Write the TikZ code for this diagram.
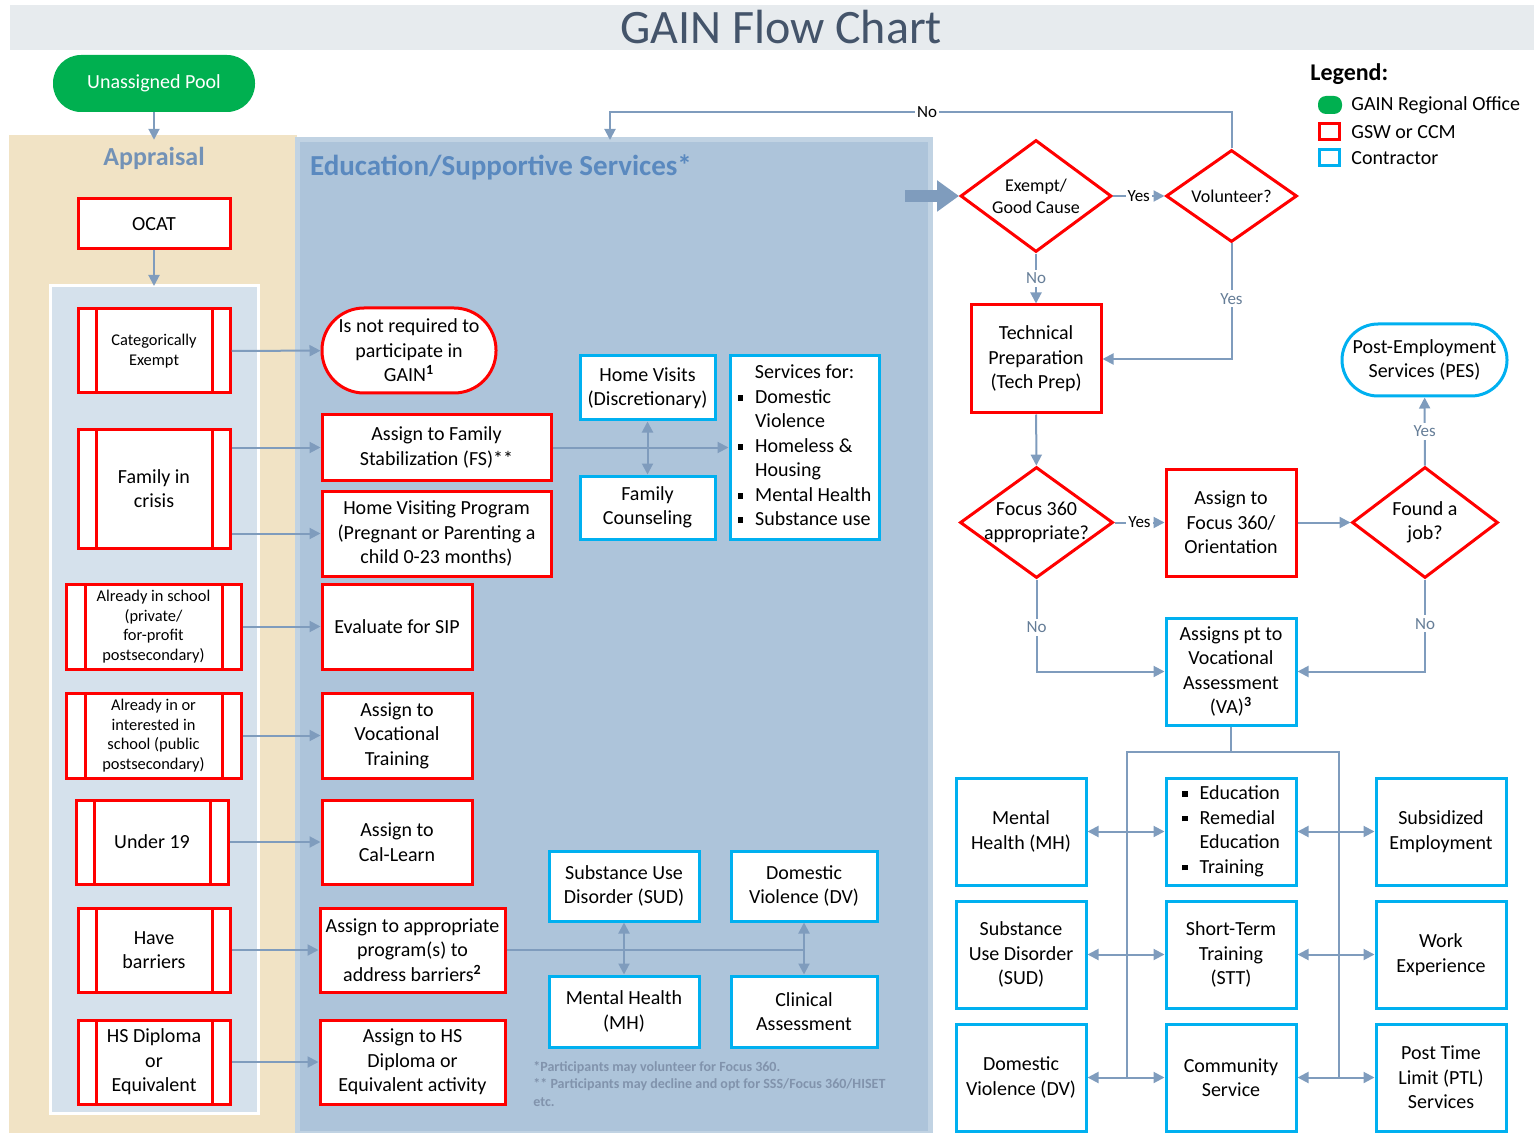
\documentclass[tikz,border=0pt]{standalone}
\usepackage{fontspec}
\setmainfont{Carlito}
\usetikzlibrary{shapes.geometric, arrows.meta, positioning}
\definecolor{gsred}{HTML}{FF0000}
\definecolor{ccblue}{HTML}{00B0F0}
\definecolor{rogreen}{HTML}{00B050}
\definecolor{linegray}{HTML}{7F9CBD}
\definecolor{apprbeige}{HTML}{F1E3C5}
\definecolor{edublue}{HTML}{ADC4DA}
\definecolor{listblue}{HTML}{D5E1EC}
\definecolor{barfill}{HTML}{E7EBEE}
\definecolor{titleslate}{HTML}{44546A}
\definecolor{headblue}{HTML}{5A89BF}
\definecolor{apprhead}{HTML}{7392B6}
\definecolor{footgray}{HTML}{8193AC}
\newcommand*{\mainfs}{\fontsize{10}{12.25}\selectfont}
\newcommand*{\smallfs}{\fontsize{8.2}{9.75}\selectfont}
\newcommand*{\dmdfs}{\fontsize{9}{11}\selectfont}
\newcommand*{\lblfs}{\fontsize{8.5}{9.5}\selectfont}
\newcommand*{\sqb}{\raisebox{0.3ex}{\rule{2.8pt}{2.8pt}}}
\newcommand*{\fnote}[1]{\textsuperscript{\textbf{#1}}}
\tikzset{
    boxsize/.style 2 args = {minimum width=#1, minimum height=#2},
    panel/.style      = {rectangle, outer sep=0pt, inner sep=0pt},
    redbox/.style     = {draw=gsred, line width=1.5pt, fill=white, rectangle, align=center, font=\mainfs, inner sep=1pt},
    bluebox/.style    = {draw=ccblue, line width=1.5pt, fill=white, rectangle, align=center, font=\mainfs, inner sep=1pt},
    predef/.style     = {redbox, path picture={
        \draw[gsred, line width=1.5pt] ([xshift=#1]path picture bounding box.north west) -- ([xshift=#1]path picture bounding box.south west);
        \draw[gsred, line width=1.5pt] ([xshift=-#1]path picture bounding box.north east) -- ([xshift=-#1]path picture bounding box.south east);}},
    predef/.default   = 9pt,
    decision/.style   = {draw=gsred, line width=1.5pt, fill=white, diamond, aspect=1.4, inner sep=-3pt, align=center, font=\mainfs},
    flow/.style       = {draw=linegray, line width=1pt, -{Triangle[length=5.5pt,width=5.5pt]}},
    biflow/.style     = {draw=linegray, line width=1pt, {Triangle[length=5.5pt,width=5.5pt]}-{Triangle[length=5.5pt,width=5.5pt]}},
    plain/.style      = {draw=linegray, line width=1pt},
    blockarrow/.style = {draw=linegray, line width=6pt, -{Triangle[length=11pt,width=15pt]}},
    lbl/.style        = {fill=white, font=\lblfs, inner sep=1pt},
    vlbl/.style       = {fill=white, font=\lblfs, text=linegray!80!black, inner sep=1.5pt},
    legendtxt/.style  = {anchor=west, font=\mainfs, inner sep=0pt}
}

\begin{document}
\begin{tikzpicture}[x=0.5pt, y=-0.5pt]
	\useasboundingbox (0,0) rectangle (1534,1133);
	% background panels
	\node (titlebar)  [panel, fill=barfill, boxsize={762pt}{22.5pt}] at (772,27.5) {};
	\node (title)     [text=titleslate, font=\fontsize{24}{28}\selectfont] at (781,27) {GAIN Flow Chart};
	\node (apprpanel) [panel, fill=apprbeige, boxsize={144pt}{499pt}] at (153,634) {};
	\node (edupanel)  [panel, fill=edublue, draw=edublue!75!white, line width=2.5pt, boxsize={316.5pt}{496.5pt}] at (613.5,636.5) {};
	\node (listpanel) [panel, fill=listblue, draw=white, line width=1.5pt, boxsize={104pt}{413.5pt}] at (154,699.5) {};
	\node (apprtitle) [font=\fontsize{13}{15}\selectfont\bfseries, text=apprhead] at (154,158) {Appraisal};
	\node (edutitle)  [anchor=west, font=\fontsize{14.5}{17}\selectfont\bfseries, text=headblue] at (303,167) {Education/Supportive Services*};

	% appraisal
	\node (pool)    [fill=rogreen, rounded corners=14pt, text=white, font=\mainfs, boxsize={101pt}{28.5pt}] at (154,83.5) {Unassigned Pool};
	\node (ocat)    [redbox, boxsize={76pt}{25pt}] at (154,224) {OCAT};
	\node (catex)   [predef, font=\smallfs, boxsize={76pt}{42pt}] at (154,351) {Categorically\\Exempt};
	\node (crisis)  [predef, boxsize={76pt}{59.5pt}] at (154,488.5) {Family in\\crisis};
	\node (private) [predef=9.5pt, font=\smallfs, boxsize={87.5pt}{42.5pt}] at (153.5,626.5) {Already in school\\(private/\\for-profit\\postsecondary)};
	\node (public)  [predef=9.5pt, font=\smallfs, boxsize={87.5pt}{42.5pt}] at (153.5,735.5) {Already in or\\interested in\\school (public\\postsecondary)};
	\node (under)   [predef, boxsize={76pt}{42pt}] at (152,842) {Under 19};
	\node (barrier) [predef, boxsize={76pt}{42pt}] at (154,950) {Have\\barriers};
	\node (hsdip)   [predef, boxsize={76pt}{42pt}] at (154,1062) {HS Diploma\\or\\Equivalent};

	% education / supportive services
	\node (notreq)   [redbox, rounded corners=21pt, boxsize={87pt}{42.5pt}] at (409,350.5) {Is not required to\\participate in\\GAIN\fnote{1}};
	\node (famstab)  [redbox, boxsize={114.5pt}{32.5pt}] at (436.5,447.5) {Assign to Family\\Stabilization (FS)**};
	\node (hvprog)   [redbox, boxsize={114.5pt}{42.5pt}] at (436.5,533.5) {Home Visiting Program\\(Pregnant or Parenting a\\child 0-23 months)};
	\node (sip)      [redbox, boxsize={75pt}{42.5pt}] at (397,626.5) {Evaluate for SIP};
	\node (voc)      [redbox, boxsize={75pt}{42.5pt}] at (397,735.5) {Assign to\\Vocational\\Training};
	\node (callearn) [redbox, boxsize={75pt}{42pt}] at (397,842) {Assign to\\Cal-Learn};
	\node (approp)   [redbox, boxsize={92.5pt}{42pt}] at (412.5,950) {Assign to appropriate\\program(s) to\\address barriers\fnote{2}};
	\node (hsact)    [redbox, boxsize={92.5pt}{42pt}] at (412.5,1062) {Assign to HS\\Diploma or\\Equivalent activity};

	\node (hvisit) [bluebox, boxsize={67.5pt}{32pt}] at (647.5,388) {Home Visits\\(Discretionary)};
	\node (fcoun)  [bluebox, boxsize={67.5pt}{31.5pt}] at (647.5,507.5) {Family\\Counseling};
	\node (svcfor) [bluebox, boxsize={74.5pt}{91.5pt}] at (804.5,447.5) {\begin{tabular}{@{}l@{\hspace{6pt}}l@{}}\multicolumn{2}{c}{Services for:}\\ \sqb & Domestic\\ & Violence\\ \sqb & Homeless \&\\ & Housing\\ \sqb & Mental Health\\ \sqb & Substance use\end{tabular}};
	\node (sudA)   [bluebox, boxsize={75pt}{35pt}] at (624,886) {Substance Use\\Disorder (SUD)};
	\node (dvA)    [bluebox, boxsize={73pt}{35pt}] at (804,886) {Domestic\\Violence (DV)};
	\node (mhA)    [bluebox, boxsize={75pt}{35.5pt}] at (624,1011.5) {Mental Health\\(MH)};
	\node (clin)   [bluebox, boxsize={73pt}{35.5pt}] at (804,1011.5) {Clinical\\Assessment};
	\node (fnotes) [anchor=north west, align=left, font=\fontsize{7}{8.75}\selectfont\bfseries, text=footgray, inner sep=0pt] at (533,1061) {*Participants may volunteer for Focus 360.\\** Participants may decline and opt for SSS/Focus 360/HISET\\etc.};

	% GAIN track
	\node (exempt) [decision, font=\dmdfs, boxsize={75.5pt}{56pt}] at (1036,196) {Exempt/\\Good Cause};
	\node (volun)  [decision, font=\dmdfs, boxsize={65.5pt}{46pt}] at (1231.5,196) {Volunteer?};
	\node (tech)   [redbox, boxsize={65pt}{54pt}] at (1036,359) {Technical\\Preparation\\(Tech Prep)};
	\node (focus)  [decision, boxsize={76.5pt}{55.5pt}] at (1036.5,522.5) {Focus 360\\appropriate?};
	\node (afocus) [redbox, boxsize={65pt}{53.5pt}] at (1231,522.5) {Assign to\\Focus 360/\\Orientation};
	\node (job)    [decision, boxsize={73pt}{55.5pt}] at (1425,522.5) {Found a\\job?};
	\node (pes)    [bluebox, rounded corners=18pt, boxsize={82.5pt}{36pt}] at (1424.5,360) {Post-Employment\\Services (PES)};
	\node (va)     [bluebox, boxsize={65pt}{53.5pt}] at (1231,671.5) {Assigns pt to\\Vocational\\Assessment\\(VA)\fnote{3}};

	\node (mhB)    [bluebox, boxsize={65pt}{53.5pt}] at (1021,831.5) {Mental\\Health (MH)};
	\node (educ)   [bluebox, boxsize={65pt}{53.5pt}] at (1231,831.5) {\begin{tabular}{@{}l@{\hspace{6pt}}l@{}}\sqb & Education\\ \sqb & Remedial\\ & Education\\ \sqb & Training\end{tabular}};
	\node (subemp) [bluebox, boxsize={65pt}{53.5pt}] at (1441,831.5) {Subsidized\\Employment};
	\node (sudB)   [bluebox, boxsize={65pt}{53.5pt}] at (1021,954.5) {Substance\\Use Disorder\\(SUD)};
	\node (stt)    [bluebox, boxsize={65pt}{53.5pt}] at (1231,954.5) {Short-Term\\Training\\(STT)};
	\node (wex)    [bluebox, boxsize={65pt}{53.5pt}] at (1441,954.5) {Work\\Experience};
	\node (dvB)    [bluebox, boxsize={65pt}{53.5pt}] at (1021,1077.5) {Domestic\\Violence (DV)};
	\node (csvc)   [bluebox, boxsize={65pt}{53.5pt}] at (1231,1077.5) {Community\\Service};
	\node (ptl)    [bluebox, boxsize={65pt}{53.5pt}] at (1441,1077.5) {Post Time\\Limit (PTL)\\Services};

	% legend
	\node (legend)  [anchor=west, inner sep=0pt, font=\fontsize{12}{14}\selectfont\bfseries] at (1310,74) {Legend:};
	\node (lgreen)  [panel, fill=rogreen, rounded corners=4pt, boxsize={12pt}{9pt}] at (1330,105) {};
	\node (lred)    [panel, draw=gsred, line width=1.5pt, boxsize={10pt}{8pt}] at (1329,132) {};
	\node (lblue)   [panel, draw=ccblue, line width=1.5pt, boxsize={10pt}{8pt}] at (1329,158) {};
	\node (lgreenT) [legendtxt] at (1351,105) {GAIN Regional Office};
	\node (lredT)   [legendtxt] at (1351,132) {GSW or CCM};
	\node (lblueT)  [legendtxt] at (1351,158) {Contractor};

	\coordinate (blkstart) at (905,196);
	\coordinate (noback) at (610,112);
	\coordinate (busL) at (1127,752);
	\coordinate (busR) at (1339,752);

	\draw [flow] (pool) -- (apprtitle);
	\draw [flow] (ocat) -- (listpanel.north);
	\draw [flow] (catex) -- (notreq);
	\draw [flow] (crisis.east |- famstab) -- (famstab);
	\draw [flow] (crisis.east |- hvprog) -- (hvprog);
	\draw [flow] (private) -- (sip);
	\draw [flow] (public) -- (voc);
	\draw [flow] (under) -- (callearn);
	\draw [flow] (barrier) -- (approp);
	\draw [flow] (hsdip) -- (hsact);
	\draw [flow] (famstab) -- (svcfor);
	\draw [biflow] (hvisit) -- (fcoun);
	\draw [plain] (approp.east) -- (approp.east -| dvA.south);
	\draw [biflow] (sudA) -- (mhA);
	\draw [biflow] (dvA) -- (clin);

	\draw [blockarrow] (blkstart) -- (exempt.west);
	\draw [flow] (exempt) -- node[lbl]{Yes} (volun);
	\draw [flow] (exempt) -- node[vlbl]{No} (tech);
	\draw [flow] (volun.north) |- node[lbl, pos=0.745]{No} (noback) -- (noback |- edupanel.north);
	\draw [flow] (volun.south) |- node[vlbl, pos=0.24]{Yes} (tech.east);
	\draw [flow] (tech) -- (focus);
	\draw [flow] (focus) -- node[lbl]{Yes} (afocus);
	\draw [flow] (afocus) -- (job);
	\draw [flow] (job) -- node[vlbl]{Yes} (pes);
	\draw [flow] (focus.south) |- node[vlbl, pos=0.26]{No} (va.west);
	\draw [flow] (job.south) |- node[vlbl, pos=0.24]{No} (va.east);

	\draw [plain] (va.south) -- (va.south |- busL);
	\draw [plain] (busL |- dvB) -- (busL) -- (busR) -- (busR |- ptl);
	\draw [biflow] (mhB) -- (educ);
	\draw [biflow] (educ) -- (subemp);
	\draw [biflow] (sudB) -- (stt);
	\draw [biflow] (stt) -- (wex);
	\draw [biflow] (dvB) -- (csvc);
	\draw [biflow] (csvc) -- (ptl);
\end{tikzpicture}
\end{document}
